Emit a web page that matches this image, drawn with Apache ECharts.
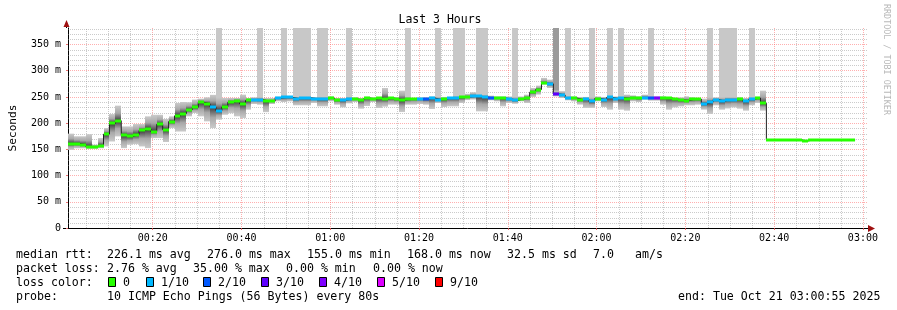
<!DOCTYPE html>
<html><head><meta charset="utf-8">
<script src="https://cdn.jsdelivr.net/npm/echarts@6/dist/echarts.min.js"></script>
<style>html,body{margin:0;padding:0;background:#fff}#c{width:897px;height:310px}</style>
</head><body><div id="c"></div>
<script>
// ---------- data ----------
const startMin = 0.92;          // 00:00:55 expressed in minutes
const spanMin = 180;            // 3 hours
const stepMin = 80 / 60;        // one probe every 80 s
const yMaxMs = 381.5;

const xTickLabels = ['00:20','00:40','01:00','01:20','01:40','02:00','02:20','02:40','03:00'];
const yTickLabels = ['0','50 m','100 m','150 m','200 m','250 m','300 m','350 m'];

const medianMs = [
 160.7,160.7,159,155,155,157,179,199.5,204.7,176.6,
 174.7,178,186,189,184,198,187.5,203,214,218,
 225.7,230,239.7,237,231,224,231,240,243,237,
 243.5,245,245,242,242,248,249,249,247,248.5,
 248.5,247,246.5,246.5,248,244,244,246,246,244,
 248,246,248,246,248,246,244,246,247,247,
 246,248,245,246,248.7,248.7,249,250,251,251,
 249.6,248,248,248,246,243.5,246,248,259,264,
 276,275,255.7,253.8,248,248,245,246,241.6,247,
 245,249,247,248,247,248.7,247.5,248.7,247.5,247.5,
 248,248,246,244,243,246,246,237,240,245,
 242,245,245,246,242,246,248,238,168,168,
 168,168,168,168,166,168,168,168,168,168,
 168,168,168
];
const lossTenths = [
 0,0,0,0,0,0,0,0,0,0,
 0,0,0,0,0,0,0,0,0,0,
 0,0,0,0,1,1,0,0,0,0,
 0,1,1,0,0,1,1,1,1,1,
 1,1,1,1,0,0,1,1,0,0,
 0,0,0,0,0,0,0,0,0,1,
 2,1,1,0,1,1,0,0,1,1,
 1,2,0,0,1,1,0,0,0,0,
 0,1,3,1,1,0,0,1,1,0,
 1,1,1,1,0,0,0,1,2,4,
 0,0,0,0,0,0,0,1,1,1,
 1,1,1,0,1,1,0,0,0,0,
 0,0,0,0,0,0,0,0,0,0,
 0,0,0
];
const smokeLoMs = [
 149,152,152,151,151,152,155.6,165,174.7,152.4,
 158.8,160,155.6,152.4,171.5,171.5,164,190.6,184,184,
 213,219.3,213,203.4,190.6,206.6,216,219,213,209.7,
 225.7,236.5,235.2,221,236.5,241.6,240.3,241.6,234,234,
 234,238.4,232,232,241.6,235.2,230.1,237.8,240.3,227.6,
 232.7,240.3,228.9,231.4,235.2,235.2,221.2,235.2,235.2,236.5,
 235.2,227,238.4,230.8,232,232,238.4,244,245,222.5,
 222.5,243.5,241.6,232,238.4,237,241.6,238.4,250,254.4,
 273.5,267,251,248,243.5,241.6,235.3,229,229,241.6,
 230.8,225.7,238.4,225.7,223.8,241.6,240.3,244.8,242.9,242.9,
 235.2,225.7,230.1,232,234,234,235.2,225.7,217.4,234,
 225.7,228,230,227.6,223.8,234,238.4,223.8
];
const smokeHiMs = [
 180,175,175,179,159,171.5,190.6,217.4,233.4,193.8,
 193.8,198.3,198.3,213,216,216,208,213,238.5,240.4,
 240,245,246.7,249.3,254,250,248,248,248,254.4,
 248,249.3,250,248,248,250.5,251,251.2,251,251,
 251,249.3,251,251,251.2,248,248,251,249.3,248,
 250.5,249.3,248,267,249.3,249.3,262,251,248,249.3,
 249.3,251,251,250,250,252,252,256,259,255,
 255,252.5,251,251,251,251,251,254.4,267,271.6,
 286.3,283,262,261,252,251,250,250,250,251,
 250,252,251,251,254.4,253,251.2,254.4,252,251.2,
 251.2,249.3,248,249.3,251.2,249.3,248,246.7,250,249.3,
 250,250,250,249.3,248,250,250.5,262
];
const tallSteps = [25,32,36,38,39,40,42,43,47,57,62,65,66,69,70,75,84,88,91,93,98,108,110,111,112,115];
const darkTallSteps = [82];

const lossLevels = [0,1,2,3,4,5,9];
const lossLabels = ['0','1/10','2/10','3/10','4/10','5/10','9/10'];
const lossColorList = ['#26ff00','#00b8ff','#0059ff','#5e00ff','#7e00ff','#dd00ff','#ff0000'];

const statRows = [
 [[16,'median rtt:'],[107,'226.1 ms avg'],[207,'276.0 ms max'],[307,'155.0 ms min'],[407,'168.0 ms now'],[507,'32.5 ms sd'],[593,'7.0'],[635,'am/s']],
 [[16,'packet loss:'],[107,'2.76 % avg'],[193,'35.00 % max'],[286,'0.00 % min'],[373,'0.00 % now']],
 [[16,'loss color:']],
 [[16,'probe:'],[107,'10 ICMP Echo Pings (56 Bytes) every 80s'],[678,'end: Tue Oct 21 03:00:55 2025']]
];

// ---------- build ----------
const mono = '"DejaVu Sans Mono", monospace';
const xEnd = startMin + spanMin;
const stepStart = i => startMin + i * stepMin;
const lossColor = l => lossColorList[Math.max(0, lossLevels.indexOf(l))];

const smokeData = [];
for (let i = 0; i < smokeLoMs.length; i++) {
  const tall = darkTallSteps.includes(i) ? 2 : (tallSteps.includes(i) ? 1 : 0);
  smokeData.push([stepStart(i), stepStart(i + 1), smokeLoMs[i], smokeHiMs[i], medianMs[i], tall]);
}
const medData = medianMs.map((m, i) => [stepStart(i), stepStart(i + 1), m, lossTenths[i]]);
const stepLine = medianMs.map((m, i) => [stepStart(i), m]);
stepLine.push([stepStart(medianMs.length), medianMs[medianMs.length - 1]]);

const gridData = [];
for (let v = 5; v < spanMin + 0.5; v += 5) if (v % 20 !== 0) gridData.push([v, 0, 0]);
for (let v = 10; v < yMaxMs; v += 10) if (v % 50 !== 0) gridData.push([startMin, v, 1]);

const minorColor = 'rgba(140,140,140,0.45)';
function renderGrid(params, api) {
  const kind = api.value(2);
  let a, b;
  if (kind === 0) {
    const v = api.value(0);
    a = api.coord([v, 0]); b = api.coord([v, yMaxMs]);
    const x = Math.round(a[0]) + 0.5;
    return {type:'line', shape:{x1:x, y1:a[1], x2:x, y2:b[1]}, style:{stroke:minorColor, lineWidth:1, lineDash:[1,1]}};
  } else {
    const v = api.value(1);
    a = api.coord([startMin, v]); b = api.coord([xEnd, v]);
    const y = Math.round(a[1]) + 0.5;
    return {type:'line', shape:{x1:a[0], y1:y, x2:b[0], y2:y}, style:{stroke:minorColor, lineWidth:1, lineDash:[1,1]}};
  }
}

function renderSmoke(params, api) {
  const t0 = api.value(0), t1 = api.value(1), lo = api.value(2), hi = api.value(3), med = api.value(4), tall = api.value(5);
  const pHi = api.coord([t0, hi]), pLo = api.coord([t1, lo]), pMed = api.coord([t0, med]);
  const x0 = Math.round(pHi[0]), x1 = Math.round(pLo[0]);
  const children = [];
  if (tall) {
    const pTop = api.coord([t0, yMaxMs]);
    children.push({type:'rect', shape:{x:x0, y:pTop[1], width:x1 - x0, height:pHi[1] - pTop[1] + 1},
      style:{fill: tall === 2 ? '#9a9a9a' : '#c8c8c8'}});
  }
  const yTop = pHi[1], h = Math.max(1, pLo[1] - pHi[1]);
  const f = Math.min(0.97, Math.max(0.03, (pMed[1] - yTop) / h));
  children.push({type:'rect', shape:{x:x0, y:yTop, width:x1 - x0, height:h},
    style:{fill: new echarts.graphic.LinearGradient(0, 0, 0, 1, [
      {offset:0, color:'#cacaca'},
      {offset:f * 0.5, color:'#a8a8a8'},
      {offset:f, color:'#3a3a3a'},
      {offset:f + (1 - f) * 0.5, color:'#a8a8a8'},
      {offset:1, color:'#cacaca'}])}});
  return {type:'group', children};
}

function renderMedian(params, api) {
  const t0 = api.value(0), t1 = api.value(1), med = api.value(2), loss = api.value(3);
  const p0 = api.coord([t0, med]), p1 = api.coord([t1, med]);
  const x0 = Math.round(p0[0]), x1 = Math.round(p1[0]);
  return {type:'rect', shape:{x:x0, y:Math.round(p0[1]) - 1.5, width:x1 - x0, height:3}, style:{fill: lossColor(loss)}};
}

// graphic decorations (text legend, arrows, watermark)
const graphics = [];
graphics.push({type:'text', x:440, y:20, style:{text:'Last 3 Hours', font:'11.5px ' + mono, fill:'#000', align:'center', verticalAlign:'middle'}});
graphics.push({type:'text', x:886, y:4, rotation:-Math.PI / 2,
  style:{text:'RRDTOOL / TOBI OETIKER', font:'8.4px ' + mono, fill:'#b8b8b8', align:'left', verticalAlign:'middle'}});
graphics.push({type:'line', shape:{x1:66.5, y1:28, x2:66.5, y2:24}, style:{stroke:'#000', lineWidth:1}});
graphics.push({type:'polygon', shape:{points:[[63.5,27],[69.5,27],[66.5,20]]}, style:{fill:'#a01010'}});
graphics.push({type:'line', shape:{x1:867, y1:228.5, x2:869, y2:228.5}, style:{stroke:'#000', lineWidth:1}});
graphics.push({type:'polygon', shape:{points:[[868,225],[868,232],[875,228.5]]}, style:{fill:'#a01010'}});
graphics.push({type:'line', shape:{x1:63, y1:228.5, x2:66, y2:228.5}, style:{stroke:'#000', lineWidth:1}});

const rowY = [255, 269, 283, 297];
statRows.forEach((row, r) => row.forEach(([x, t]) => {
  graphics.push({type:'text', x:x, y:rowY[r], style:{text:t, font:'11.6px ' + mono, fill:'#000', align:'left', verticalAlign:'middle'}});
}));
const swatchX = [108, 146, 203, 261, 319, 377, 435];
lossLabels.forEach((lab, k) => {
  graphics.push({type:'rect', shape:{x:swatchX[k] + 0.5, y:277.5, width:7, height:9},
    style:{fill:lossColorList[k], stroke:'#000', lineWidth:1}});
  graphics.push({type:'text', x:swatchX[k] + 15, y:rowY[2], style:{text:lab, font:'11.6px ' + mono, fill:'#000', align:'left', verticalAlign:'middle'}});
});

const chart = echarts.init(document.getElementById('c'), null, {renderer:'canvas', width:897, height:310});
chart.setOption({
  animation:false,
  backgroundColor:'#ffffff',
  grid:{left:66, right:30, top:28, bottom:82, containLabel:false},
  xAxis:{
    type:'value', min:startMin, max:xEnd, splitNumber:9,
    axisLine:{show:true, lineStyle:{color:'#000', width:1}},
    axisTick:{show:true, length:2, lineStyle:{color:'rgba(230,80,80,0.8)'}},
    axisLabel:{
      showMinLabel:false, showMaxLabel:false, margin:5,
      fontFamily:mono, fontSize:10, color:'#000',
      formatter: v => { const k = Math.round(v / 20) - 1; return (Math.abs(v - Math.round(v / 20) * 20) < 1e-6 && k >= 0 && k < xTickLabels.length) ? xTickLabels[k] : ''; }
    },
    splitLine:{show:true, showMinLine:false, showMaxLine:false, lineStyle:{color:'rgba(255,95,95,0.5)', width:1, type:[1,1]}}
  },
  yAxis:{
    type:'value', min:0, max:yMaxMs, interval:50,
    name:'Seconds', nameLocation:'middle', nameGap:49, nameRotate:90,
    nameTextStyle:{fontFamily:mono, fontSize:11.2, color:'#000'},
    axisLine:{show:true, lineStyle:{color:'#000', width:1}},
    axisTick:{show:true, length:2, lineStyle:{color:'rgba(230,80,80,0.8)'}},
    axisLabel:{
      showMaxLabel:false, margin:7, fontFamily:mono, fontSize:10, color:'#000',
      formatter: v => { const k = Math.round(v / 50); return (Math.abs(v - k * 50) < 1e-6 && k < yTickLabels.length) ? yTickLabels[k] : ''; }
    },
    splitLine:{show:true, showMinLine:false, showMaxLine:false, lineStyle:{color:'rgba(255,95,95,0.5)', width:1, type:[1,1]}}
  },
  graphic:graphics,
  series:[
    {type:'custom', name:'grid', renderItem:renderGrid, data:gridData, silent:true, z:1, clip:true},
    {type:'custom', name:'smoke', renderItem:renderSmoke, data:smokeData, encode:{x:[0,1], y:[2,3]}, silent:true, z:2, clip:true},
    {type:'line', name:'median', data:stepLine, step:'end', showSymbol:false, symbol:'none',
      lineStyle:{color:'#202020', width:1}, z:3, silent:true},
    {type:'custom', name:'loss', renderItem:renderMedian, data:medData, encode:{x:[0,1], y:2}, silent:true, z:4, clip:true}
  ]
});
</script></body></html>
